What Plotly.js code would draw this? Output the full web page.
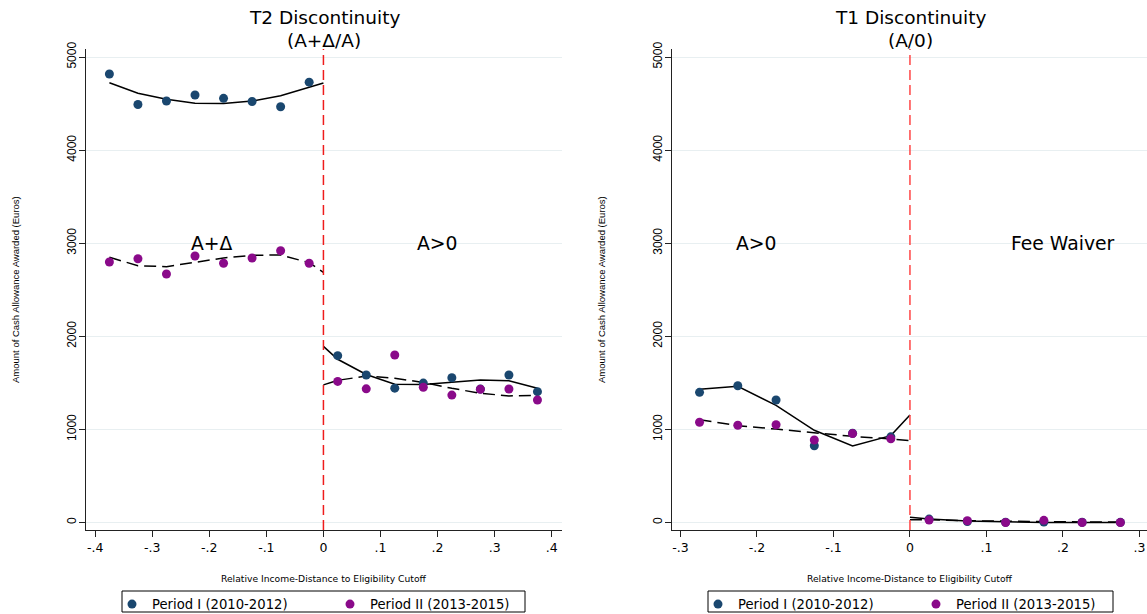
<!DOCTYPE html>
<html>
<head>
<meta charset="utf-8">
<script src="https://cdn.plot.ly/plotly-3.0.1.min.js"></script>
<style>html,body{margin:0;padding:0;background:#fff;}#chart{width:1147px;height:614px;}</style>
</head>
<body>
<div id="chart"></div>
<script>
// ---------- data ----------
const t2BinsLeft  = [-0.375,-0.325,-0.275,-0.225,-0.175,-0.125,-0.075,-0.025];
const t2BinsRight = [0.025,0.075,0.125,0.175,0.225,0.275,0.325,0.375];
const t2P1Left  = [4817,4490,4527,4592,4556,4522,4466,4730];
const t2P1Right = [1792,1584,1443,1497,1554,1433,1584,1405];
const t2P2Left  = [2798,2833,2669,2862,2784,2841,2919,2784];
const t2P2Right = [1515,1435,1799,1452,1368,1431,1434,1316];
const t2FitXLeft  = [-0.375,-0.325,-0.275,-0.225,-0.175,-0.125,-0.075,-0.025,0];
const t2Fit1Left  = [4724,4610,4546,4503,4500,4527,4584,4670,4721];
const t2Fit2Left  = [2849,2758,2748,2798,2841,2870,2873,2791,2687];
const t2FitXRight = [0,0.025,0.075,0.125,0.175,0.225,0.275,0.325,0.375];
const t2Fit1Right = [1892,1753,1590,1484,1482,1508,1531,1523,1441];
const t2Fit2Right = [1478,1527,1572,1550,1504,1441,1388,1359,1366];

const t1BinsLeft  = [-0.275,-0.225,-0.175,-0.125,-0.075,-0.025];
const t1BinsRight = [0.025,0.075,0.125,0.175,0.225,0.275];
const t1P1Left  = [1398,1469,1316,824,958,920];
const t1P1Right = [36,10,2,5,2,1];
const t1P2Left  = [1076,1044,1050,886,955,898];
const t1P2Right = [27,18,0,23,0,0];
const t1FitXLeft  = [-0.275,-0.225,-0.175,-0.125,-0.075,-0.025,0];
const t1Fit1Left  = [1431,1462,1258,990,823,933,1155];
const t1Fit2Left  = [1103,1040,1003,965,925,897,880];
const t1FitXRight = [0,0.025,0.075,0.125,0.175,0.225,0.275];
const t1Fit1Right = [55,38,15,4,0,0,0];
const t1Fit2Right = [28,30,18,12,10,6,5];

const seriesNames = ["Period I (2010-2012)","Period II (2013-2015)"];
const xTickValsT2 = [-0.4,-0.3,-0.2,-0.1,0,0.1,0.2,0.3,0.4];
const xTickTextT2 = ["-.4","-.3","-.2","-.1","0",".1",".2",".3",".4"];
const xTickValsT1 = [-0.3,-0.2,-0.1,0,0.1,0.2,0.3];
const xTickTextT1 = ["-.3","-.2","-.1","0",".1",".2",".3"];
const yTickVals = [0,1000,2000,3000,4000,5000];
const yTickText = ["0","1000","2000","3000","4000","5000"];
const panelTitles = [["T2 Discontinuity","(A+Δ/A)"],["T1 Discontinuity","(A/0)"]];
const regionLabelsT2 = [{x:-0.195,y:3000,t:"A+Δ"},{x:0.2,y:3000,t:"A>0"}];
const regionLabelsT1 = [{x:-0.2,y:3000,t:"A>0"},{x:0.2,y:3000,t:"Fee Waiver"}];
const yTitle = "Amount of Cash Allowance Awarded (Euros)";
const xTitle = "Relative Income-Distance to Eligibility Cutoff";

// ---------- styles ----------
const C1 = "#1a476f", C2 = "#8a0a8a";
const W = 1147, H = 614;
const WIDE = "DejaVu Sans, Verdana, sans-serif";
const NARROW = "Liberation Sans, Arial, Helvetica, sans-serif";
const px = v => v / W, py = v => (H - v) / H;

function pts(x, y, name, color, xa, ya, leg, show) {
  return {x:x, y:y, type:"scatter", mode:"markers", name:name, xaxis:xa, yaxis:ya,
    legend:leg, showlegend:show, marker:{color:color, size:9}, hoverinfo:"x+y"};
}
function fit(x, y, dash, xa, ya) {
  return {x:x, y:y, type:"scatter", mode:"lines", xaxis:xa, yaxis:ya, showlegend:false,
    line:{color:"#000", width:1.5, dash:dash}, hoverinfo:"skip"};
}

const traces = [
  fit(t2FitXLeft, t2Fit1Left, "solid", "x", "y"),
  fit(t2FitXRight, t2Fit1Right, "solid", "x", "y"),
  fit(t2FitXLeft, t2Fit2Left, "12px,6px", "x", "y"),
  fit(t2FitXRight, t2Fit2Right, "12px,6px", "x", "y"),
  pts(t2BinsLeft, t2P1Left, seriesNames[0], C1, "x", "y", "legend", true),
  pts(t2BinsRight, t2P1Right, seriesNames[0], C1, "x", "y", "legend", false),
  pts(t2BinsLeft, t2P2Left, seriesNames[1], C2, "x", "y", "legend", true),
  pts(t2BinsRight, t2P2Right, seriesNames[1], C2, "x", "y", "legend", false),

  fit(t1FitXLeft, t1Fit1Left, "solid", "x2", "y2"),
  fit(t1FitXRight, t1Fit1Right, "solid", "x2", "y2"),
  fit(t1FitXLeft, t1Fit2Left, "12px,6px", "x2", "y2"),
  fit(t1FitXRight, t1Fit2Right, "12px,6px", "x2", "y2"),
  pts(t1BinsLeft, t1P1Left, seriesNames[0], C1, "x2", "y2", "legend2", true),
  pts(t1BinsRight, t1P1Right, seriesNames[0], C1, "x2", "y2", "legend2", false),
  pts(t1BinsLeft, t1P2Left, seriesNames[1], C2, "x2", "y2", "legend2", true),
  pts(t1BinsRight, t1P2Right, seriesNames[1], C2, "x2", "y2", "legend2", false)
];

const yDom = [py(530), py(49)];
function xAxis(dom, range, tv, tt) {
  return {domain:dom, range:range, tickmode:"array", tickvals:tv, ticktext:tt,
    showgrid:false, zeroline:false, showline:true, linecolor:"#222", linewidth:1,
    ticks:"outside", ticklen:6, tickcolor:"#222", tickfont:{size:12.5, color:"#000", family:WIDE},
    automargin:false, fixedrange:true};
}
function yAxis(anchor) {
  return {domain:yDom, range:[-81,5086], anchor:anchor, tickmode:"array", tickvals:yTickVals, ticktext:yTickText,
    tickangle:-90, showgrid:true, gridcolor:"#e8eff1", gridwidth:1, zeroline:false,
    showline:true, linecolor:"#222", linewidth:1, ticks:"outside", ticklen:6, tickcolor:"#222",
    tickfont:{size:12, color:"#000", family:NARROW}, ticklabelstandoff:-2, automargin:false, fixedrange:true};
}

const annotations = [];
function addPanelText(titles, cx, regions, xref, yref, yTitleX) {
  annotations.push({xref:"paper", yref:"paper", x:px(cx), y:py(17), text:titles[0], showarrow:false,
    xanchor:"center", yanchor:"middle", font:{size:18.5, color:"#000", family:WIDE}});
  annotations.push({xref:"paper", yref:"paper", x:px(cx), y:py(40), text:titles[1], showarrow:false,
    xanchor:"center", yanchor:"middle", font:{size:18.5, color:"#000", family:WIDE}});
  regions.forEach(r => annotations.push({xref:xref, yref:yref, x:r.x, y:r.y, text:r.t, showarrow:false,
    xanchor:"center", yanchor:"middle", font:{size:18.8, color:"#000", family:WIDE}}));
  annotations.push({xref:"paper", yref:"paper", x:px(yTitleX), y:py(290), text:yTitle, showarrow:false,
    textangle:-90, xanchor:"center", yanchor:"middle", font:{size:9.5, color:"#000", family:NARROW}});
  annotations.push({xref:"paper", yref:"paper", x:px(cx), y:py(578), text:xTitle, showarrow:false,
    xanchor:"center", yanchor:"middle", font:{size:9.2, color:"#000", family:WIDE}});
}
addPanelText(panelTitles[0], 324, regionLabelsT2, "x", "y", 15);
addPanelText(panelTitles[1], 910, regionLabelsT1, "x2", "y2", 601);

const legendStyle = (x) => ({orientation:"h", x:px(x), y:py(589), xanchor:"left", yanchor:"top",
  borderwidth:0, bgcolor:"rgba(0,0,0,0)", font:{size:13.2, color:"#000", family:WIDE},
  entrywidth:173, itemclick:false, itemdoubleclick:false, traceorder:"normal"});

const legendBox = (x0, x1) => ({type:"rect", xref:"paper", yref:"paper", x0:px(x0), x1:px(x1),
  y0:py(612), y1:py(591), line:{color:"#000", width:1}, fillcolor:"rgba(0,0,0,0)"});

const layout = {
  width:W, height:H, margin:{l:0, r:0, t:0, b:0, autoexpand:false}, paper_bgcolor:"#fff", plot_bgcolor:"#fff",
  font:{family:NARROW, color:"#000"},
  xaxis: xAxis([px(86), px(562)], [-0.416, 0.418], xTickValsT2, xTickTextT2),
  yaxis: yAxis("x"),
  xaxis2: xAxis([px(672), 1], [-0.311, 0.3098], xTickValsT1, xTickTextT1),
  yaxis2: yAxis("x2"),
  shapes: [
    {type:"line", xref:"x", yref:"paper", x0:0, x1:0, y0:yDom[0], y1:yDom[1], line:{color:"#ee1c1c", width:1.5, dash:"10px,5px"}},
    {type:"line", xref:"x2", yref:"paper", x0:0, x1:0, y0:yDom[0], y1:yDom[1], line:{color:"#ff4646", width:1.5, dash:"10px,5px"}},
    legendBox(122, 525),
    legendBox(708, 1113)
  ],
  annotations: annotations,
  legend: legendStyle(112),
  legend2: legendStyle(698),
  showlegend:true
};

Plotly.newPlot("chart", traces, layout, {displayModeBar:false, staticPlot:true});
</script>
</body>
</html>
